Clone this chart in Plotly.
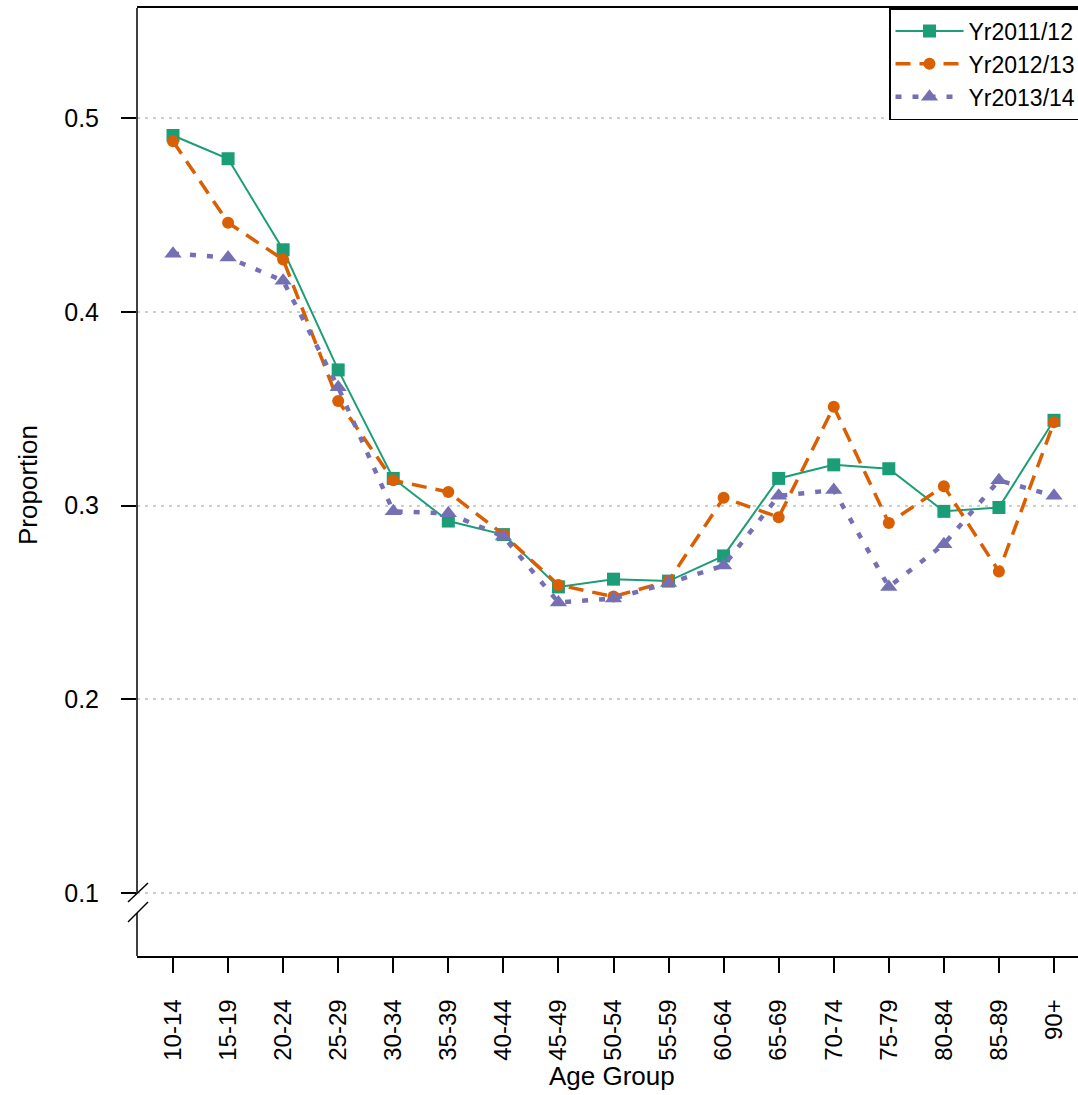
import plotly.graph_objects as go

# Age groups on the x axis
age_groups = ["10-14", "15-19", "20-24", "25-29", "30-34", "35-39", "40-44",
              "45-49", "50-54", "55-59", "60-64", "65-69", "70-74", "75-79",
              "80-84", "85-89", "90+"]

# Proportion per age group for each year
yr2011_12 = [0.491, 0.479, 0.432, 0.370, 0.314, 0.292, 0.285, 0.258, 0.262,
             0.261, 0.274, 0.314, 0.321, 0.319, 0.297, 0.299, 0.344]
yr2012_13 = [0.488, 0.446, 0.427, 0.354, 0.313, 0.307, 0.285, 0.259, 0.253,
             0.261, 0.304, 0.294, 0.351, 0.291, 0.310, 0.266, 0.343]
yr2013_14 = [0.430, 0.428, 0.416, 0.361, 0.297, 0.296, 0.284, 0.250, 0.252,
             0.260, 0.269, 0.305, 0.308, 0.258, 0.280, 0.313, 0.305]

y_ticks = [0.1, 0.2, 0.3, 0.4, 0.5]
y_tick_labels = ["0.1", "0.2", "0.3", "0.4", "0.5"]

FONT = "Liberation Sans, Arial, Helvetica, sans-serif"
W, H = 1078, 1095
L, R, T, B = 137, 0, 8, 139
PW, PH = W - L - R, H - T - B


def px(x):
    return (x - L) / PW


def py(y):
    return (H - B - y) / PH


series = [
    ("Yr2011/12", yr2011_12, "#1B9E77", "solid", 2, "square", 13),
    ("Yr2012/13", yr2012_13, "#D95F02", "15px,9px", 3.5, "circle", 12),
    ("Yr2013/14", yr2013_14, "#7570B3", "6px,11px", 4.5, "triangle-up", 15),
]

fig = go.Figure()
for name, vals, color, dash, lw, symbol, msize in series:
    fig.add_trace(go.Scatter(
        x=age_groups, y=vals, name=name, mode="lines+markers",
        line=dict(color=color, width=lw, dash=dash),
        marker=dict(symbol=symbol, size=msize, color=color, line=dict(width=0)),
    ))

# Left axis line with a break just below 0.1
shapes = [
    dict(type="line", xref="paper", yref="paper", x0=px(137), x1=px(137),
         y0=py(8), y1=py(893), line=dict(color="black", width=1.5)),
    dict(type="line", xref="paper", yref="paper", x0=px(137), x1=px(137),
         y0=py(913), y1=py(956), line=dict(color="black", width=1.5)),
    dict(type="line", xref="paper", yref="paper", x0=px(128), x1=px(148),
         y0=py(902), y1=py(883), line=dict(color="black", width=1.5)),
    dict(type="line", xref="paper", yref="paper", x0=px(128), x1=px(148),
         y0=py(922), y1=py(902), line=dict(color="black", width=1.5)),
]

annotations = [
    dict(text="Proportion", xref="paper", yref="paper", x=px(28), y=py(485),
         xanchor="center", yanchor="middle", textangle=-90, showarrow=False,
         font=dict(family=FONT, size=26, color="black")),
    dict(text="Age Group", xref="paper", yref="paper", x=px(612), y=py(1076),
         xanchor="center", yanchor="middle", showarrow=False,
         font=dict(family=FONT, size=26, color="black")),
]

fig.update_layout(
    width=W, height=H,
    margin=dict(l=L, r=R, t=T, b=B, autoexpand=False),
    paper_bgcolor="white", plot_bgcolor="white",
    font=dict(family=FONT, size=24, color="black"),
    shapes=shapes, annotations=annotations,
    showlegend=True,
    legend=dict(x=px(889), y=1, xanchor="left", yanchor="top",
                bgcolor="white", bordercolor="black", borderwidth=1.5,
                font=dict(family=FONT, size=23, color="black"),
                itemwidth=68, tracegroupgap=0),
    xaxis=dict(type="category", categoryorder="array", categoryarray=age_groups,
               range=[-0.654, 16.436], showgrid=False, zeroline=False,
               showline=True, mirror=True, linecolor="black", linewidth=1.5,
               ticks="outside", ticklen=15, tickwidth=1.5, tickcolor="black",
               tickangle=-90, ticklabelstandoff=17,
               tickfont=dict(family=FONT, size=24, color="black")),
    yaxis=dict(range=[0.0675, 0.5568], tickvals=y_ticks, ticktext=y_tick_labels,
               showgrid=True, gridcolor="#cfcfcf", griddash="3px,5px", gridwidth=1.5,
               zeroline=False, showline=False,
               ticks="outside", ticklen=15, tickwidth=1.5, tickcolor="black",
               ticklabelstandoff=17,
               tickfont=dict(family=FONT, size=25, color="black")),
)

fig.write_html("out.html")
